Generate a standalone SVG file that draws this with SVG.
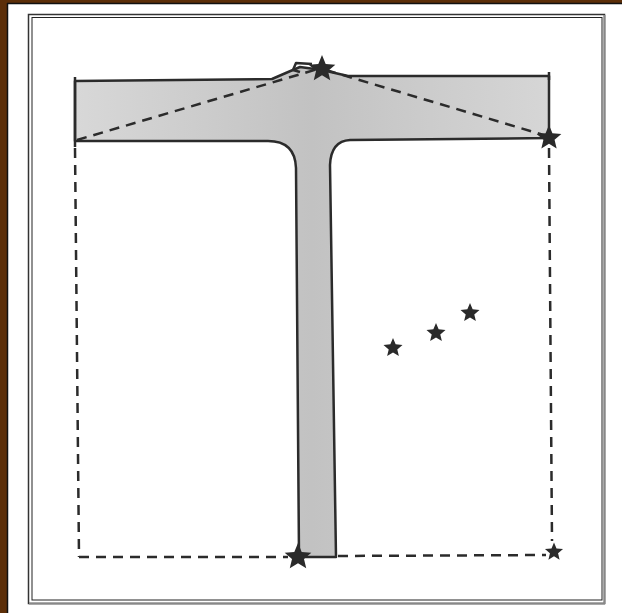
<svg xmlns="http://www.w3.org/2000/svg" xmlns:xlink="http://www.w3.org/1999/xlink" width="622" height="613" viewBox="0 0 622 613">
<style>
.edge{fill:none;stroke:#2b2b2b;stroke-width:2.5;stroke-linejoin:round}
.dash{fill:none;stroke:#2b2b2b;stroke-width:2.5;stroke-dasharray:10 7}
.star{fill:#2a2a2a}
</style>
<defs>
<polygon id="star" points="0,-1 0.2645,-0.364 0.9511,-0.309 0.428,0.139 0.5878,0.809 0,0.45 -0.5878,0.809 -0.428,0.139 -0.9511,-0.309 -0.2645,-0.364"/>
<linearGradient id="stemg" x1="0" y1="0" x2="1" y2="0">
<stop offset="0" stop-color="#d8d8d8"/>
<stop offset="0.5" stop-color="#c2c2c2"/>
<stop offset="1" stop-color="#d6d6d6"/>
</linearGradient>
</defs>
<rect x="0" y="0" width="622" height="613" fill="#ffffff"/>
<g id="border">
<rect x="0" y="0" width="7" height="613" fill="#5c2e08"/>
<rect x="0" y="0" width="622" height="3" fill="#5c2e08"/>
<line x1="7.5" y1="3" x2="7.5" y2="613" stroke="#111" stroke-width="1.5"/>
<line x1="7" y1="3.5" x2="622" y2="3.5" stroke="#111" stroke-width="1.5"/>
<rect x="28.5" y="14.5" width="576" height="589" fill="none" stroke="#333" stroke-width="1.5"/>
<line x1="604.5" y1="15" x2="604.5" y2="604" stroke="#888" stroke-width="2"/>
<line x1="29" y1="603.5" x2="605" y2="603.5" stroke="#888" stroke-width="2"/>
<rect x="32" y="17.5" width="570" height="582.5" fill="none" stroke="#222" stroke-width="1"/>
</g>
<g id="t-shape">
<path d="M75,81 L272,79 Q288,72 300,67 L322,70 L348,76 L549,76 L549,138 L350,140 Q331,141 330,165 L336,557 L299,557 L296,168 Q295,141 268,141 L75,141 Z" fill="url(#stemg)"/>
<path class="edge" d="M75,81 L272,79 Q288,72 300,67 L322,70 L348,76 L549,76 L549,138 L350,140 Q331,141 330,165 L336,557 L299,557 L296,168 Q295,141 268,141 L75,141 Z"/>
<line class="edge" x1="75" y1="77" x2="75" y2="147"/>
<line class="edge" x1="549" y1="72" x2="549" y2="80"/>
<polyline class="edge" points="312,64 296,63 293,70 300,72" stroke-width="2"/>
</g>
<g id="connectors">
<line class="dash" x1="77" y1="140" x2="318" y2="69"/>
<line class="dash" x1="326" y1="70" x2="547" y2="136"/>
<line class="dash" x1="75" y1="148" x2="79" y2="557"/>
<line class="dash" x1="79" y1="557" x2="288" y2="557"/>
<line class="dash" x1="338" y1="556" x2="546" y2="555"/>
<line class="dash" x1="549" y1="148" x2="552" y2="541"/>
</g>
<g id="star-top"><use href="#star" class="star" transform="translate(322,69) scale(14)"/></g>
<g id="star-right"><use href="#star" class="star" transform="translate(549,138) scale(13)"/></g>
<g id="star-bottom"><use href="#star" class="star" transform="translate(298,557) scale(14)"/></g>
<g id="star-corner"><use href="#star" class="star" transform="translate(554,552) scale(9.5)"/></g>
<g id="star-1"><use href="#star" class="star" transform="translate(393,348) scale(10)"/></g>
<g id="star-2"><use href="#star" class="star" transform="translate(436,333) scale(10)"/></g>
<g id="star-3"><use href="#star" class="star" transform="translate(470,313) scale(10)"/></g>
</svg>
